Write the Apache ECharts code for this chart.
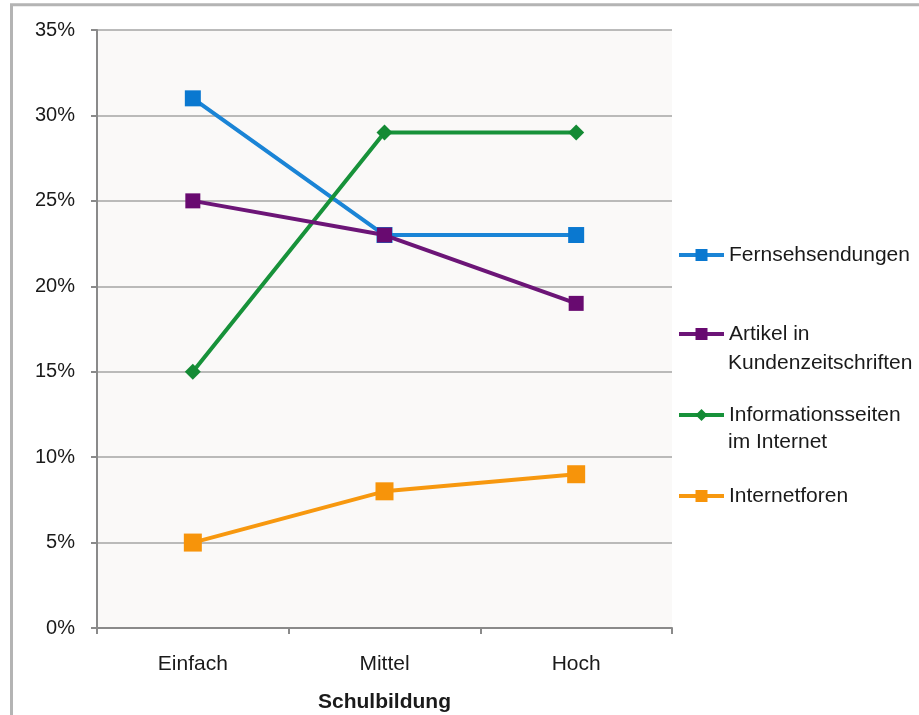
<!DOCTYPE html>
<html>
<head>
<meta charset="utf-8">
<title>Schulbildung</title>
<script src="https://cdn.jsdelivr.net/npm/echarts@6/dist/echarts.min.js"></script>
<style>
  html, body { margin: 0; padding: 0; background: #fff; }
  #chart { width: 919px; height: 715px; }
</style>
</head>
<body>
<div id="chart"></div>
<script>
// 数据
const categories = ['Einfach', 'Mittel', 'Hoch']
const fernsehsendungen = [31, 23, 23]
const artikel = [25, 23, 19]
const informationsseiten = [15, 29, 29]
const internetforen = [5, 8, 9]
const yTicks = [0, 5, 10, 15, 20, 25, 30, 35]

const FONT = "'Liberation Sans', Arial, sans-serif"
const TXT = '#1a1a1a'

const chart = echarts.init(document.getElementById('chart'))

// 单个图例（图标与第一行文字对齐，第二行另用文字元素）
function legendFor(name, top, label) {
  return {
    data: [name],
    left: 677,
    top: top,
    orient: 'vertical',
    padding: 0,
    itemWidth: 45,
    itemHeight: 15,
    formatter: () => label,
    lineStyle: { width: 4 },
    textStyle: { fontFamily: FONT, fontSize: 21, color: TXT, lineHeight: 24 }
  }
}

function secondLine(text, top) {
  return {
    type: 'text',
    left: 728,
    top: top,
    silent: true,
    style: { text: text, fontFamily: FONT, fontSize: 21, fill: TXT }
  }
}

chart.setOption({
  animation: false,
  backgroundColor: '#fff',
  textStyle: { fontFamily: FONT },
  graphic: [
    /* 外框 */
    {
      type: 'rect',
      shape: { x: 11.5, y: 4.8, width: 1200, height: 1200 },
      style: { fill: 'none', stroke: '#b4b4b4', lineWidth: 3 },
      silent: true
    },
    secondLine('Kundenzeitschriften', 353),
    secondLine('im Internet', 432)
  ],
  grid: {
    left: 97,
    right: 247,
    top: 30,
    bottom: 87,
    outerBoundsMode: 'none',
    show: true,
    backgroundColor: '#faf9f8',
    borderWidth: 0
  },
  legend: [
    legendFor('Fernsehsendungen', 243, 'Fernsehsendungen'),
    legendFor('Artikel in Kundenzeitschriften', 322, 'Artikel in'),
    legendFor('Informationsseiten im Internet', 403, 'Informationsseiten'),
    legendFor('Internetforen', 484, 'Internetforen')
  ],
  xAxis: {
    type: 'category',
    data: categories,
    boundaryGap: true,
    name: 'Schulbildung',
    nameLocation: 'middle',
    nameGap: 64,
    nameTextStyle: { fontFamily: FONT, fontSize: 21, fontWeight: 'bold', color: TXT },
    axisLine: { lineStyle: { color: '#8a8a8a', width: 2 } },
    axisTick: { show: true, interval: 0, length: 6, lineStyle: { color: '#8a8a8a', width: 2 } },
    axisLabel: { fontFamily: FONT, fontSize: 21, color: TXT, margin: 26 },
    splitLine: { show: false }
  },
  yAxis: {
    type: 'value',
    min: yTicks[0],
    max: yTicks[yTicks.length - 1],
    interval: 5,
    axisLine: { show: true, lineStyle: { color: '#8a8a8a', width: 2 } },
    axisTick: { show: true, length: 6, lineStyle: { color: '#8a8a8a', width: 2 } },
    axisLabel: {
      fontFamily: FONT,
      fontSize: 20,
      color: TXT,
      margin: 22,
      padding: [4, 0, 0, 0],
      formatter: '{value}%'
    },
    splitLine: { show: true, lineStyle: { color: '#a4a4a4', width: 1.5 } }
  },
  series: [
    {
      name: 'Fernsehsendungen',
      type: 'line',
      data: fernsehsendungen,
      symbol: 'rect',
      symbolSize: 16,
      lineStyle: { width: 4, color: '#1a84d6' },
      itemStyle: { color: '#0a78d0' },
      z: 3
    },
    {
      name: 'Artikel in Kundenzeitschriften',
      type: 'line',
      data: artikel,
      symbol: 'rect',
      symbolSize: 15,
      lineStyle: { width: 4, color: '#6c1577' },
      itemStyle: { color: '#680a70' },
      z: 4
    },
    {
      name: 'Informationsseiten im Internet',
      type: 'line',
      data: informationsseiten,
      symbol: 'diamond',
      symbolSize: 16,
      lineStyle: { width: 4, color: '#17923a' },
      itemStyle: { color: '#138a34' },
      z: 3
    },
    {
      name: 'Internetforen',
      type: 'line',
      data: internetforen,
      symbol: 'rect',
      symbolSize: 18,
      lineStyle: { width: 4, color: '#f7980f' },
      itemStyle: { color: '#f7940a' },
      z: 3
    }
  ]
})
</script>
</body>
</html>
